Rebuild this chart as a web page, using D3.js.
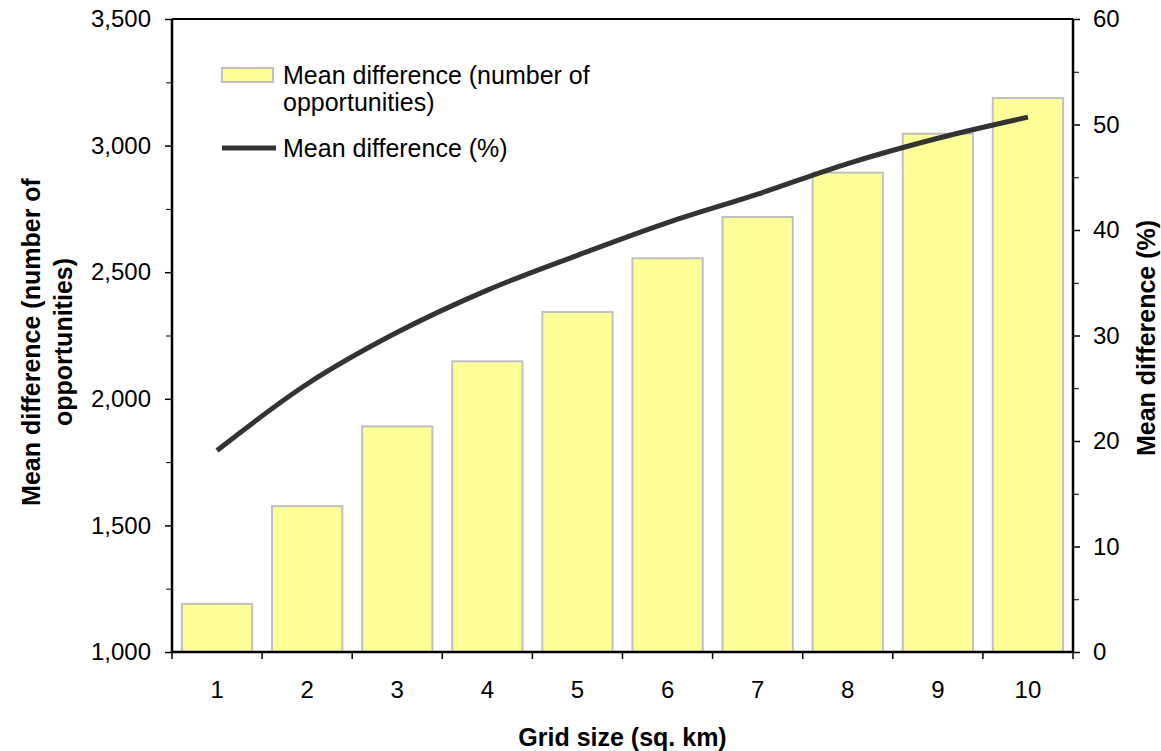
<!DOCTYPE html>
<html>
<head>
  <meta charset="utf-8">
  <script src="https://cdn.jsdelivr.net/npm/d3@7"></script>
  <style>
    body { margin: 0; background: #fff; }
    svg { font-family: "Liberation Sans", Arial, sans-serif; }
  </style>
</head>
<body>
<script>
  // data
  const gridSizes = ["1", "2", "3", "4", "5", "6", "7", "8", "9", "10"];
  const meanDiffCount = [1190, 1576, 1891, 2148, 2343, 2555, 2718, 2893, 3047, 3188];
  const meanDiffPct = [19.1, 25.4, 30.3, 34.3, 37.6, 40.7, 43.4, 46.3, 48.7, 50.7];
  const leftTicks = [1000, 1500, 2000, 2500, 3000, 3500];
  const rightTicks = [0, 10, 20, 30, 40, 50, 60];

  const W = 1161, H = 751;
  const m = { top: 19, right: 88, bottom: 99, left: 172 };
  const w = W - m.left - m.right;
  const h = H - m.top - m.bottom;

  const svg = d3.select("body").append("svg")
    .attr("width", W).attr("height", H);
  const g = svg.append("g").attr("transform", `translate(${m.left},${m.top})`);

  const x = d3.scaleBand().domain(gridSizes).range([0, w])
    .paddingInner(0.22).paddingOuter(0.11);
  const yL = d3.scaleLinear().domain([1000, 3500]).range([h, 0]);
  const yR = d3.scaleLinear().domain([0, 60]).range([h, 0]);

  // bars
  g.selectAll("rect.bar")
    .data(gridSizes)
    .enter().append("rect")
    .attr("class", "bar")
    .attr("x", d => x(d))
    .attr("width", x.bandwidth())
    .attr("y", (d, i) => yL(meanDiffCount[i]))
    .attr("height", (d, i) => h - yL(meanDiffCount[i]))
    .attr("fill", "#ffff99")
    .attr("stroke", "#c0c0c0")
    .attr("stroke-width", 2);

  // line
  const line = d3.line()
    .x((d, i) => x(gridSizes[i]) + x.bandwidth() / 2)
    .y(d => yR(d))
    .curve(d3.curveCatmullRom);
  g.append("path")
    .datum(meanDiffPct)
    .attr("d", line)
    .attr("fill", "none")
    .attr("stroke", "#333333")
    .attr("stroke-width", 5);

  // top border
  g.append("line").attr("x1", 0).attr("x2", w).attr("y1", 0).attr("y2", 0)
    .attr("stroke", "#000").attr("stroke-width", 2);

  const fmt = d3.format(",");

  // left axis
  const leftAx = g.append("g")
    .call(d3.axisLeft(yL).tickValues(leftTicks).tickFormat(fmt).tickSize(7).tickPadding(14));
  g.append("g")
    .call(d3.axisLeft(yL).tickValues(d3.range(1250, 3500, 500)).tickFormat("").tickSize(6))
    .select(".domain").remove();

  // right axis
  const rightAx = g.append("g").attr("transform", `translate(${w},0)`)
    .call(d3.axisRight(yR).tickValues(rightTicks).tickSize(7).tickPadding(13));
  g.append("g").attr("transform", `translate(${w},0)`)
    .call(d3.axisRight(yR).tickValues(d3.range(5, 60, 10)).tickFormat("").tickSize(6))
    .select(".domain").remove();

  // bottom axis: ticks at band boundaries
  const bottomAx = g.append("g").attr("transform", `translate(0,${h})`)
    .call(d3.axisBottom(x).tickSize(0).tickPadding(29));
  const step = x.step();
  bottomAx.selectAll("line.bnd")
    .data(d3.range(gridSizes.length + 1))
    .enter().append("line")
    .attr("class", "bnd")
    .attr("x1", d => d * step).attr("x2", d => d * step)
    .attr("y1", 0).attr("y2", 7)
    .attr("stroke", "#000").attr("stroke-width", 1.5);

  [leftAx, rightAx, bottomAx].forEach(a => {
    a.selectAll(".domain").attr("stroke", "#000").attr("stroke-width", 2.5);
    a.selectAll(".tick line").attr("stroke-width", 1.5);
    a.selectAll("text").attr("font-size", 24).attr("fill", "#000")
      .attr("font-family", "Liberation Sans, Arial, sans-serif");
  });
  bottomAx.select(".domain").attr("d", `M0,0H${w}`);
  leftAx.select(".domain").attr("d", `M0,0V${h}`);
  rightAx.select(".domain").attr("d", `M0,0V${h}`);

  // axis titles
  svg.append("text")
    .attr("x", m.left + w / 2).attr("y", 746)
    .attr("text-anchor", "middle")
    .attr("font-size", 25).attr("font-weight", "bold")
    .text("Grid size (sq. km)");

  const lt = svg.append("text")
    .attr("transform", "translate(0,342) rotate(-90)")
    .attr("text-anchor", "middle")
    .attr("font-size", 25).attr("font-weight", "bold");
  lt.append("tspan").attr("x", 0).attr("y", 40).text("Mean difference (number of");
  lt.append("tspan").attr("x", 0).attr("y", 72).text("opportunities)");

  svg.append("text")
    .attr("transform", "translate(1155,338) rotate(-90)")
    .attr("text-anchor", "middle")
    .attr("font-size", 25).attr("font-weight", "bold")
    .text("Mean difference (%)");

  // legend
  const lg = svg.append("g");
  lg.append("rect").attr("x", 222).attr("y", 68).attr("width", 51).attr("height", 14)
    .attr("fill", "#ffff99").attr("stroke", "#c0c0c0").attr("stroke-width", 2);
  const lt1 = lg.append("text").attr("font-size", 25);
  lt1.append("tspan").attr("x", 283).attr("y", 84).text("Mean difference (number of");
  lt1.append("tspan").attr("x", 283).attr("y", 111).text("opportunities)");
  lg.append("line").attr("x1", 222).attr("x2", 276).attr("y1", 148).attr("y2", 148)
    .attr("stroke", "#333333").attr("stroke-width", 5);
  lg.append("text").attr("x", 283).attr("y", 157).attr("font-size", 25)
    .text("Mean difference (%)");
</script>
</body>
</html>
